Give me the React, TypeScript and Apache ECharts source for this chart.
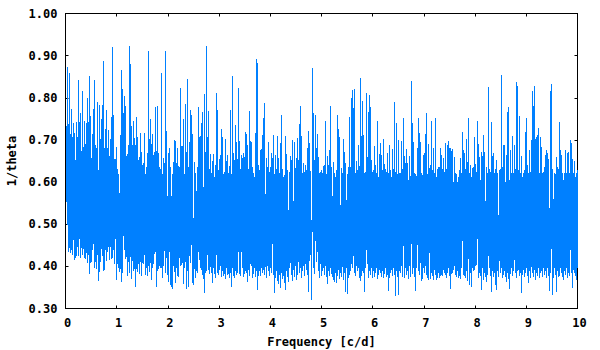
import React, { useEffect, useRef } from "react";
import * as echarts from "echarts";

const hi1 = [
0.734,0.873,0.737,0.858,0.713,0.773,0.708,0.740,0.717,0.652,
0.742,0.708,0.842,0.742,0.763,0.673,0.816,0.684,0.745,0.691,
0.740,0.800,0.742,0.851,0.756,0.658,0.715,0.773,0.842,0.688,
0.680,0.791,0.629,0.784,0.702,0.749,0.782,0.887,0.680,0.727,
0.771,0.680,0.724,0.662,0.702,0.754,0.920,0.759,0.655,0.655,
0.683];
const hi2 = [
.630,.620,.574,.711,.866,.820,.763,.804,.780,.662,
.667,.688,.922,.880,.733,.688,.746,.705,.688,.754,
.708,.653,.660,.716,.671,.640,.645,.716,.620,.635,
.670,.911,.702,.749,.691,.715,.665,.672,.778,.674,
.780,.670,.635,.632,.860,.620,.658,.645,.911,.722,
.567,.668,.680,.635,.567,.620,.648,.700,.697,.645,
.682,.637,.635,.823,.685,.685,.749,.620,.785,.672,
.845,.635,.695,.770,.758,.715,.515,.648,.622,.578,
.636,.777,.708];
const hi3 = [
.710,.740,.766,.588,.810,.672,.922,.708,.768,.630,
.667,.622,.650,.667,.612,.640,.812,.771,.628,.655,
.664,.727,.708,.620,.625,.703,.649,.664,.622,.638,
.772,.620,.851,.668,.652,.736,.695,.655,.823,.698,
.632,.665,.658,.668,.660,.718,.714,.689,.632,.768,
.698,.695,.635,.622,.612,.717,.892,.882,.640,.628,
.675,.678,.712,.751,.788,.572,.658,.635,.695,.625,
.635,.670,.657,.712,.620,.665,.632,.710,.657,.622,
.692,.758,.632,.612,.617,.709,.667,.628,.534,.625,
.662,.653,.700,.555,.695,.634,.657,.704,.652,.737,
.781,.710,.622,.645,.625,.640,.628,.680,.722,.692,
.626,.510,.870,.765,.652,.758,.680,.714,.660,.622,
.625,.628,.622,.637,.641,.744,.620,.662,.640,.676,
.780,.635,.568,.648,.622,.612,.628,.758,.725,.708,
.546,.633,.622,.703,.672,.645,.557,.620,.635,.755,
.636,.800,.818,.775,.820,.622,.651,.628,.688,.637,
.848,.710,.792,.712,.622,.625,.812,.660,.767,.807,
.777,.653,.625,.628,.685,.641,.622,.745,.612,.667,
.693,.665,.628,.703,.642,.632,.625,.668,.622,.687,
.628,.612,.678,.632,.791,.623,.740,.620,.700,.622];
const hi4 = [
.622,.697,.632,.752,.663,.645,.679,.646,.605,.662,
.614,.841,.739,.694,.622,.618,.614,.680,.753,.717,
.695,.622,.616,.665,.670,.715,.764,.620,.691,.634,
.640,.744,.628,.680,.622,.751,.612,.632,.635,.635,
.682,.665,.630,.658,.625,.693,.630,.688,.698,.682,
.682,.674,.679,.600,.660,.622,.620,.600,.612,.628,
.656,.622,.720,.675,.669,.632,.703,.648,.753,.622,
.640,.612,.633,.635,.708,.644,.624,.745,.690,.660,
.606,.671,.663,.712,.672,.555,.636,.622,.825,.630,
.624,.742,.663,.668,.622,.632,.652,.622,.522,.628,
.632,.855,.635,.689,.689,.600,.665,.767,.779,.605,
.677,.622,.710,.622,.687,.632,.837,.829,.628,.756,
.622,.663,.612,.622,.628,.720,.752,.640,.622,.676,
.625,.700,.815,.780,.829,.702,.706,.711,.729,.622,
.708,.684,.622,.625,.635,.665,.677,.669,.655,.538,
.817,.833,.632,.560,.622,.620,.660,.635,.632,.743,
.675,.665,.622,.605,.622,.675,.622,.670,.672,.622,
.700,.692,.654,.622,.650,.613,.622,.628];

const lo1 = [
.553,.498,.434,.443,.432,.438,.427,.462,.416,.421,
.424,.446,.425,.465,.420,.443,.426,.441,.421,.418,
.432,.407,.427,.382,.407,.410,.440,.453,.397,.410,
.393,.428,.366,.387,.410,.442,.425,.388,.392,.440,
.413,.433,.446,.415,.445,.417,.420,.440,.405,.466,
.367];
const lo2 = [
.405,.397,.386,.393,.364,.385,.473,.440,.417,.423,
.378,.410,.385,.423,.370,.413,.390,.393,.350,.394,
.387,.405,.382,.410,.377,.408,.406,.427,.380,.397,
.378,.400,.387,.408,.368,.395,.405,.430,.435,.350,
.390,.394,.400,.396,.397,.373,.400,.436,.385,.420,
.380,.362,.433,.355,.350,.347,.400,.387,.360,.396,
.378,.375,.420,.402,.404,.407,.358,.395,.410,.347,
.390,.352,.425,.408,.450,.360,.355,.393,.373,.390,
.385,.434,.415];
const lo3 = [
.395,.392,.380,.370,.337,.385,.390,.428,.392,.383,
.398,.385,.361,.395,.382,.372,.426,.385,.380,.392,
.402,.375,.390,.378,.383,.370,.395,.380,.382,.372,
.385,.350,.395,.378,.372,.390,.380,.385,.433,.383,
.378,.433,.395,.375,.382,.390,.385,.363,.392,.378,
.405,.400,.372,.382,.395,.375,.388,.345,.378,.390,
.378,.395,.385,.392,.380,.398,.372,.400,.388,.378,
.395,.385,.452,.380,.337,.372,.390,.365,.358,.380,
.348,.385,.370,.378,.360,.343,.388,.375,.362,.395,
.408,.380,.365,.392,.375,.402,.368,.380,.410,.385,
.395,.372,.388,.400,.378,.405,.392,.380,.339,.412,
.428,.320,.482,.395,.382,.460,.410,.435,.390,.372,
.405,.378,.388,.395,.380,.400,.375,.359,.390,.378,
.395,.382,.375,.368,.362,.385,.360,.378,.392,.370,
.385,.375,.398,.368,.385,.339,.395,.335,.372,.380,
.390,.405,.395,.424,.385,.378,.400,.388,.395,.372,
.365,.378,.390,.385,.339,.395,.440,.405,.372,.388,
.380,.395,.372,.388,.375,.385,.395,.370,.380,.392,
.385,.375,.388,.372,.382,.395,.375,.380,.341,.372,
.385,.392,.378,.395,.380,.329,.388,.375,.332,.390];
const lo4 = [
.385,.400,.375,.448,.372,.395,.380,.388,.370,.400,
.375,.452,.382,.395,.375,.341,.395,.450,.388,.380,
.408,.365,.370,.395,.385,.402,.380,.372,.368,.431,
.370,.385,.378,.368,.392,.380,.368,.372,.385,.372,
.378,.380,.378,.392,.385,.380,.372,.385,.395,.378,
.347,.382,.385,.392,.402,.380,.375,.390,.372,.378,
.370,.395,.460,.380,.378,.372,.390,.365,.418,.355,
.385,.350,.395,.388,.392,.402,.404,.464,.372,.385,
.378,.344,.395,.368,.385,.375,.362,.380,.424,.395,
.378,.339,.390,.375,.385,.355,.344,.390,.375,.412,
.385,.395,.372,.380,.390,.375,.362,.385,.370,.347,
.382,.395,.378,.390,.416,.385,.372,.388,.392,.378,
.385,.336,.380,.392,.375,.385,.395,.378,.360,.388,
.372,.398,.385,.375,.392,.368,.385,.378,.395,.372,
.385,.388,.375,.395,.380,.388,.372,.395,.378,.341,
.385,.442,.333,.372,.395,.380,.339,.390,.375,.378,
.395,.385,.375,.368,.388,.380,.395,.372,.385,.378,
.438,.385,.348,.392,.385,.378,.367,.395];

const upper = [...hi1, ...hi2, ...hi3, ...hi4];
const lower = [...lo1, ...lo2, ...lo3, ...lo4];
const maxFrequency = 10;
const rows = upper.map((h, i) => [((i + 1) * maxFrequency) / upper.length, h, lower[i] ?? h]);

const font = { fontFamily: "DejaVu Sans Mono", fontWeight: "bold" as const, fontSize: 12, color: "#000" };
const axisLine = { show: true, onZero: false, lineStyle: { color: "#000", width: 1 } };
const tick = { show: true, inside: true, length: 3, lineStyle: { color: "#000", width: 1 } };

export default function App() {
  const ref = useRef<HTMLDivElement>(null);
  useEffect(() => {
    const chart = echarts.init(ref.current!, null, { renderer: "svg" });
    const xBase = { type: "value", min: 0, max: 10, interval: 1, splitLine: { show: false }, axisLine, axisTick: tick };
    const yBase = { type: "value", min: 0.3, max: 1, interval: 0.1, splitLine: { show: false }, axisLine, axisTick: tick };
    chart.setOption({
      animation: false,
      backgroundColor: "#fff",
      grid: { left: 65.5, right: 22.5, top: 13.5, bottom: 41.5, outerBoundsMode: "none", containLabel: false },
      xAxis: [
        {
          ...xBase,
          position: "bottom",
          name: "Frequency [c/d]",
          nameLocation: "middle",
          nameGap: 27,
          nameTextStyle: font,
          axisLabel: { ...font, margin: 8, padding: [0, 0, 0, 4] },
        },
        { ...xBase, position: "top", axisLabel: { show: false } },
      ],
      yAxis: [
        {
          ...yBase,
          position: "left",
          name: "1/theta",
          nameLocation: "middle",
          nameGap: 47,
          nameRotate: 90,
          nameTextStyle: font,
          axisLabel: { ...font, margin: 8, formatter: (v: number) => v.toFixed(2) },
        },
        { ...yBase, position: "right", axisLabel: { show: false } },
      ],
      series: [
        {
          type: "custom",
          xAxisIndex: 0,
          yAxisIndex: 0,
          clip: false,
          silent: true,
          z: 1,
          data: rows,
          encode: { x: 0, y: [1, 2] },
          renderItem: (_p: unknown, api: any) => {
            const top = api.coord([api.value(0), api.value(1)]);
            const bottom = api.coord([api.value(0), api.value(2)]);
            const y = Math.round(top[1]);
            return {
              type: "rect",
              shape: { x: Math.floor(top[0]), y, width: 1, height: Math.round(bottom[1]) - y },
              style: { fill: "#0080ff" },
            };
          },
        },
      ],
    });
    return () => chart.dispose();
  }, []);
  return <div ref={ref} style={{ position: "absolute", left: 0, top: 0, width: 600, height: 350 }} />;
}
